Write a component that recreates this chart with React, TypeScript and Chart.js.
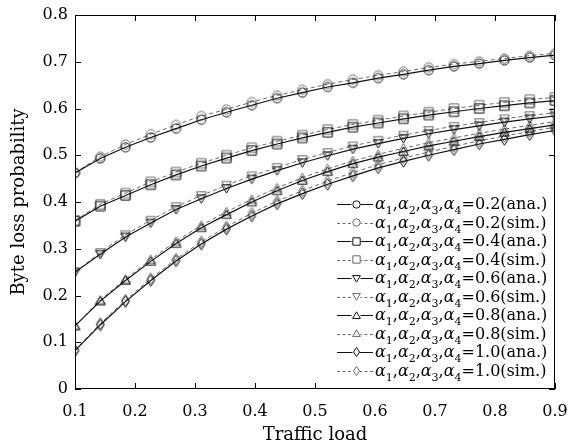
import React, { useEffect, useRef } from "react";
import { Chart, registerables } from "chart.js";
Chart.register(...registerables);

const trafficLoad = [0.1, 0.1421, 0.1842, 0.2263, 0.2684, 0.3105, 0.3526, 0.3947, 0.4368, 0.4789, 0.5211, 0.5632, 0.6053, 0.6474, 0.6895, 0.7316, 0.7737, 0.8158, 0.8579, 0.9];

const a02Ana = [0.462, 0.493, 0.517, 0.538, 0.557, 0.576, 0.592, 0.607, 0.622, 0.634, 0.646, 0.655, 0.665, 0.673, 0.682, 0.690, 0.696, 0.703, 0.709, 0.714];
const a02Sim = [0.463, 0.497, 0.523, 0.545, 0.565, 0.584, 0.598, 0.614, 0.628, 0.640, 0.652, 0.662, 0.671, 0.679, 0.688, 0.695, 0.701, 0.707, 0.713, 0.718];
const a04Ana = [0.359, 0.391, 0.414, 0.437, 0.458, 0.477, 0.494, 0.510, 0.524, 0.537, 0.549, 0.560, 0.569, 0.578, 0.586, 0.593, 0.600, 0.606, 0.612, 0.617];
const a04Sim = [0.360, 0.395, 0.419, 0.443, 0.464, 0.483, 0.500, 0.516, 0.530, 0.543, 0.555, 0.566, 0.575, 0.584, 0.592, 0.600, 0.607, 0.613, 0.619, 0.624];
const a06Ana = [0.250, 0.288, 0.325, 0.355, 0.384, 0.407, 0.429, 0.449, 0.467, 0.484, 0.499, 0.513, 0.525, 0.536, 0.546, 0.555, 0.563, 0.571, 0.578, 0.584];
const a06Sim = [0.250, 0.292, 0.330, 0.361, 0.390, 0.414, 0.436, 0.456, 0.474, 0.491, 0.506, 0.520, 0.532, 0.543, 0.553, 0.562, 0.570, 0.578, 0.585, 0.591];
const a08Ana = [0.135, 0.188, 0.232, 0.273, 0.311, 0.345, 0.373, 0.400, 0.424, 0.446, 0.465, 0.482, 0.496, 0.508, 0.520, 0.530, 0.540, 0.549, 0.557, 0.565];
const a08Sim = [0.135, 0.190, 0.235, 0.277, 0.316, 0.350, 0.379, 0.406, 0.430, 0.452, 0.471, 0.488, 0.502, 0.515, 0.527, 0.537, 0.547, 0.556, 0.564, 0.572];
const a10Ana = [0.082, 0.137, 0.187, 0.232, 0.274, 0.310, 0.342, 0.370, 0.396, 0.418, 0.438, 0.456, 0.473, 0.487, 0.500, 0.512, 0.524, 0.534, 0.544, 0.553];
const a10Sim = [0.083, 0.140, 0.190, 0.236, 0.278, 0.315, 0.347, 0.376, 0.402, 0.424, 0.445, 0.463, 0.480, 0.494, 0.507, 0.519, 0.531, 0.541, 0.551, 0.560];

const alphaValues = ["0.2", "0.2", "0.4", "0.4", "0.6", "0.6", "0.8", "0.8", "1.0", "1.0"];
const kinds = ["ana", "sim", "ana", "sim", "ana", "sim", "ana", "sim", "ana", "sim"];
const shapes = ["circle", "circle", "square", "square", "tdown", "tdown", "tup", "tup", "diamond", "diamond"];
const seriesValues = [a02Ana, a02Sim, a04Ana, a04Sim, a06Ana, a06Sim, a08Ana, a08Sim, a10Ana, a10Sim];

const xTicks = [0.1, 0.2, 0.3, 0.4, 0.5, 0.6, 0.7, 0.8, 0.9];
const yTicks = [0, 0.1, 0.2, 0.3, 0.4, 0.5, 0.6, 0.7, 0.8];

const SERIF = "'DejaVu Serif', serif";

function makeMarker(shape: string, color: string, scale = 1): HTMLCanvasElement {
  const w = Math.round((shape === "diamond" ? 9 : 11) * scale) + 2;
  const h = Math.round((shape === "diamond" ? 13 : 11) * scale) + 2;
  const c = document.createElement("canvas");
  c.width = w;
  c.height = h;
  const g = c.getContext("2d")!;
  g.strokeStyle = color;
  g.lineWidth = 1;
  const cx = w / 2, cy = h / 2;
  const r = 4.6 * scale;
  g.beginPath();
  if (shape === "circle") {
    g.arc(cx, cy, r, 0, Math.PI * 2);
  } else if (shape === "square") {
    g.rect(cx - r, cy - r, 2 * r, 2 * r);
  } else if (shape === "tup") {
    g.moveTo(cx, cy - r);
    g.lineTo(cx + r * 1.05, cy + r * 0.8);
    g.lineTo(cx - r * 1.05, cy + r * 0.8);
    g.closePath();
  } else if (shape === "tdown") {
    g.moveTo(cx, cy + r);
    g.lineTo(cx + r * 1.05, cy - r * 0.8);
    g.lineTo(cx - r * 1.05, cy - r * 0.8);
    g.closePath();
  } else {
    const hw = 3.8 * scale, hh = 5.8 * scale;
    g.moveTo(cx, cy - hh);
    g.lineTo(cx + hw, cy);
    g.lineTo(cx, cy + hh);
    g.lineTo(cx - hw, cy);
    g.closePath();
  }
  g.stroke();
  return c;
}

function drawLegendLabel(ctx: CanvasRenderingContext2D, x: number, y: number, val: string, kind: string) {
  let cx = x;
  const main = `16px ${SERIF}`;
  const ital = `italic 16px ${SERIF}`;
  const sub = `11px ${SERIF}`;
  for (let i = 1; i <= 4; i++) {
    ctx.font = ital;
    ctx.fillText("α", cx, y);
    cx += ctx.measureText("α").width;
    ctx.font = sub;
    ctx.fillText(String(i), cx, y + 5);
    cx += ctx.measureText(String(i)).width;
    if (i < 4) {
      ctx.font = main;
      ctx.fillText(",", cx, y);
      cx += ctx.measureText(",").width;
    }
  }
  ctx.font = main;
  ctx.fillText(`=${val}(${kind}.)`, cx, y);
}

export default function App() {
  const ref = useRef<HTMLCanvasElement | null>(null);
  useEffect(() => {
    document.body.style.margin = "0";
    if (!ref.current) return;

    const datasets = seriesValues.map((vals, i) => {
      const isSim = kinds[i] === "sim";
      const color = isSim ? "#6a6a6a" : "#111";
      return {
        label: `α1,α2,α3,α4=${alphaValues[i]}(${kinds[i]}.)`,
        data: vals.map((v, j) => ({ x: trafficLoad[j], y: v })),
        borderColor: color,
        borderWidth: isSim ? 1 : 1.2,
        borderDash: isSim ? [4, 3] : [],
        pointStyle: makeMarker(shapes[i], color),
        pointRadius: 5,
        backgroundColor: "transparent",
        fill: false,
        tension: 0,
      };
    });

    const framePlugin = {
      id: "frame",
      afterDraw(chart: any) {
        const { ctx, chartArea: a, scales } = chart;
        const xs = scales.x, ys = scales.y;
        ctx.save();
        ctx.strokeStyle = "#000";
        ctx.lineWidth = 1;
        ctx.beginPath();
        for (const v of xTicks) {
          const px = Math.round(xs.getPixelForValue(v)) + 0.5;
          ctx.moveTo(px, a.bottom);
          ctx.lineTo(px, a.bottom - 6);
          ctx.moveTo(px, a.top);
          ctx.lineTo(px, a.top + 6);
        }
        for (const v of yTicks) {
          const py = Math.round(ys.getPixelForValue(v)) + 0.5;
          ctx.moveTo(a.left, py);
          ctx.lineTo(a.left + 6, py);
          ctx.moveTo(a.right, py);
          ctx.lineTo(a.right - 6, py);
        }
        ctx.stroke();

        // legend
        const lx = 333, ly = 194;
        ctx.fillStyle = "#fff";
        ctx.fillRect(lx, ly, a.right - lx - 1, a.bottom - ly - 1);
        const rowH = 18.5;
        for (let i = 0; i < datasets.length; i++) {
          const ds: any = datasets[i];
          const cy = 204 + i * rowH;
          const isSim = kinds[i] === "sim";
          ctx.strokeStyle = ds.borderColor;
          ctx.lineWidth = ds.borderWidth;
          ctx.setLineDash(isSim ? [3, 2.5] : []);
          ctx.beginPath();
          ctx.moveTo(337, Math.round(cy) + 0.5);
          ctx.lineTo(373, Math.round(cy) + 0.5);
          ctx.stroke();
          ctx.setLineDash([]);
          const m = makeMarker(shapes[i], ds.borderColor, 0.8);
          ctx.fillStyle = "#fff";
          ctx.fillRect(356 - m.width / 2 + 1, Math.round(cy) - m.height / 2 + 1, m.width - 2, m.height - 2);
          ctx.drawImage(m, Math.round(356 - m.width / 2), Math.round(cy - m.height / 2));
          ctx.fillStyle = "#000";
          ctx.textBaseline = "alphabetic";
          drawLegendLabel(ctx, 375, cy + 5, alphaValues[i], kinds[i]);
        }

        ctx.strokeStyle = "#000";
        ctx.lineWidth = 1;
        ctx.strokeRect(a.left + 0.5, a.top + 0.5, a.right - a.left - 1, a.bottom - a.top - 1);
        ctx.restore();
      },
    };

    const chart = new Chart(ref.current, {
      type: "line",
      data: { datasets: datasets as any },
      options: {
        animation: false,
        responsive: false,
        devicePixelRatio: 1,
        layout: { padding: { left: 0, right: 31, top: 8, bottom: 0 } },
        plugins: { legend: { display: false }, tooltip: { enabled: false } },
        scales: {
          x: {
            type: "linear",
            min: 0.1,
            max: 0.9,
            afterFit: (s: any) => { s.height = 58; },
            grid: { display: false, drawTicks: false },
            border: { display: false },
            afterBuildTicks: (s: any) => { s.ticks = xTicks.map((v) => ({ value: v })); },
            ticks: {
              color: "#000",
              padding: 13,
              maxRotation: 0,
              font: { family: SERIF, size: 16 },
              callback: (v: any) => Number(v).toFixed(1),
            },
            title: {
              display: true,
              text: "Traffic load",
              color: "#000",
              font: { family: SERIF, size: 18 },
              padding: { top: 0, bottom: 1 },
            },
          },
          y: {
            type: "linear",
            min: 0,
            max: 0.8,
            afterFit: (s: any) => { s.width = 75; },
            grid: { display: false, drawTicks: false },
            border: { display: false },
            afterBuildTicks: (s: any) => { s.ticks = yTicks.map((v) => ({ value: v })); },
            ticks: {
              color: "#000",
              padding: 7,
              font: { family: SERIF, size: 16, lineHeight: 1 },
              callback: (v: any) => (Number(v) === 0 ? "0" : Number(v).toFixed(1)),
            },
            title: {
              display: true,
              text: "Byte loss probability",
              color: "#000",
              font: { family: SERIF, size: 18 },
              padding: { top: 9, bottom: 0 },
            },
          },
        },
      },
      plugins: [framePlugin],
    });
    return () => chart.destroy();
  }, []);

  return (
    <div style={{ width: 586, height: 447, background: "#fff" }}>
      <canvas ref={ref} width={586} height={447} />
    </div>
  );
}
